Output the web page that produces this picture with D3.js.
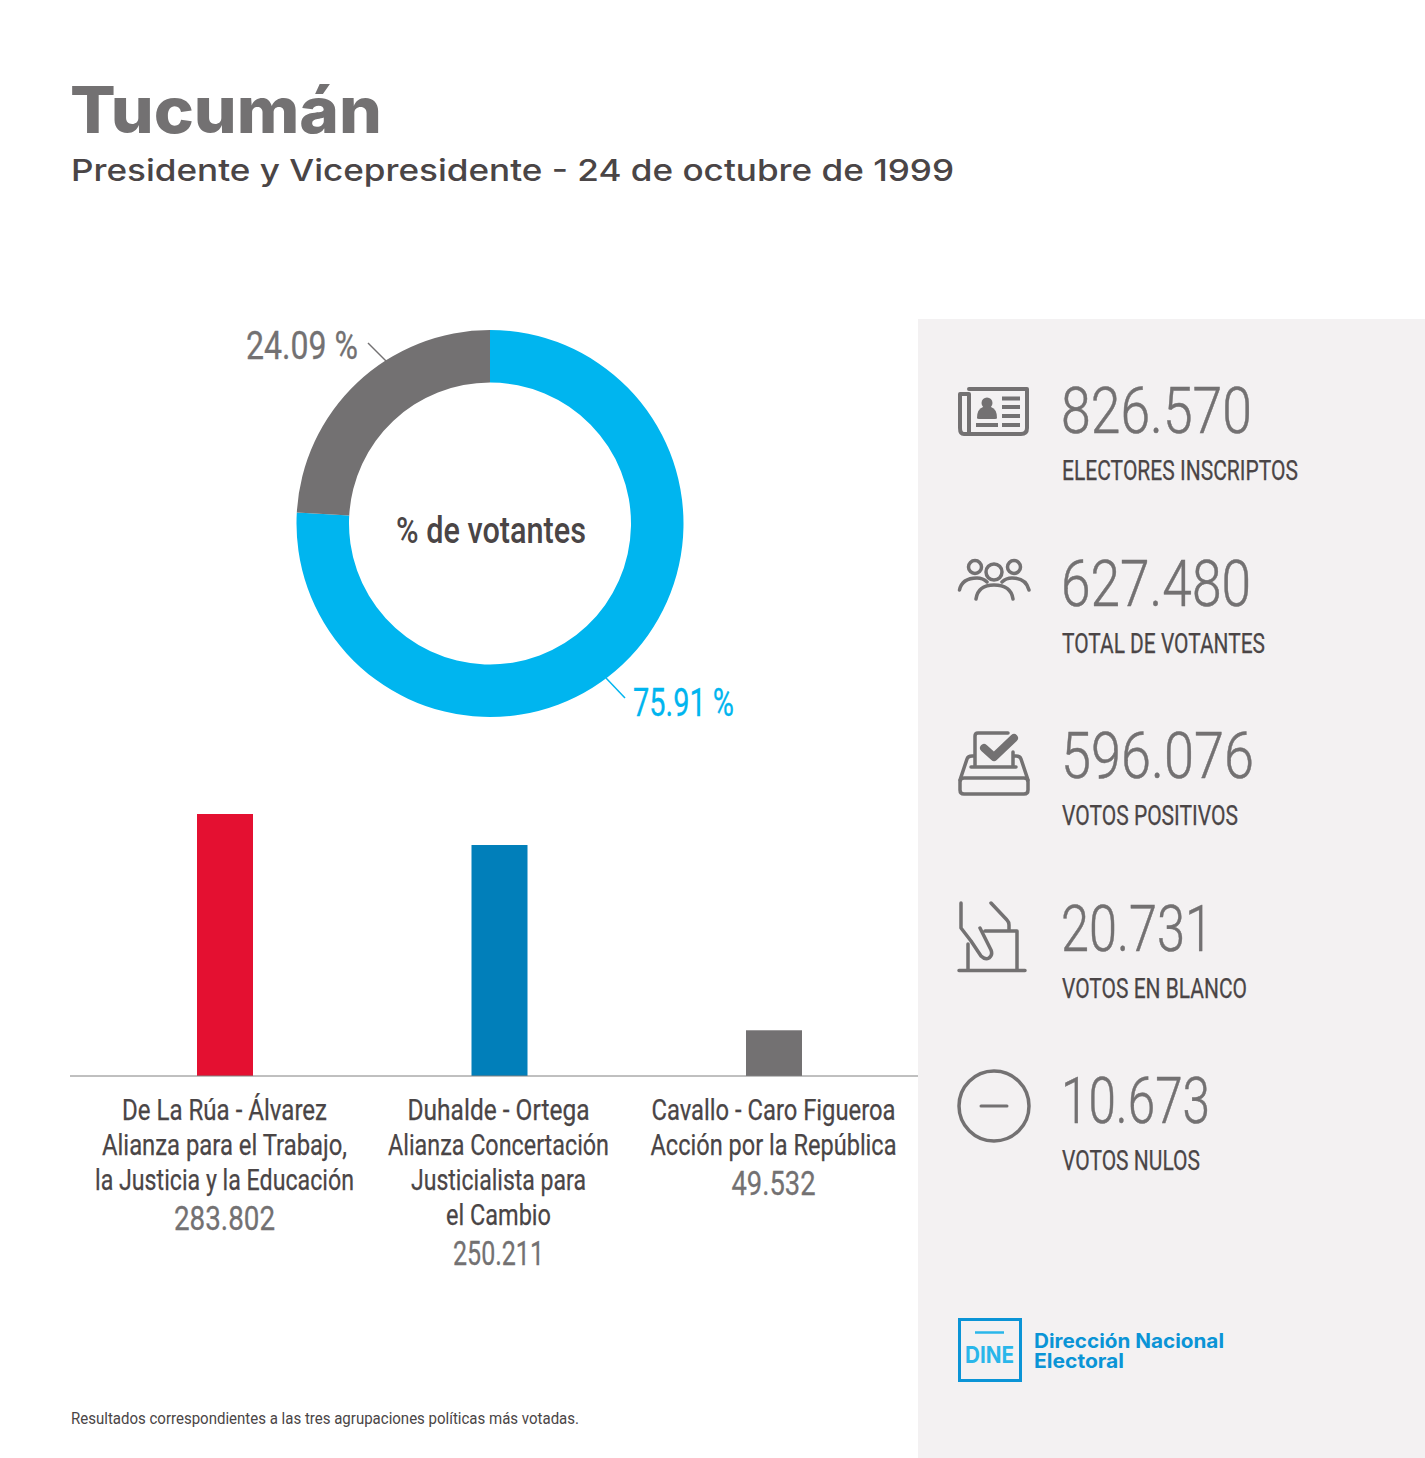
<!DOCTYPE html>
<html>
<head>
<meta charset="utf-8">
<script src="https://cdn.jsdelivr.net/npm/d3@7"></script>
<style>
  html, body { margin: 0; padding: 0; background: #fff; }
  svg { display: block; }
</style>
</head>
<body>
<div id="chart"></div>
<script>
// Donut values
var shareLabels = ["75.91 %", "24.09 %"];
var shareValues = [75.91, 24.09];

// Bar values
var parties = [
  ["De La Rúa - Álvarez", "Alianza para el Trabajo,", "la Justicia y la Educación"],
  ["Duhalde - Ortega", "Alianza Concertación", "Justicialista para", "el Cambio"],
  ["Cavallo - Caro Figueroa", "Acción por la República"]
];
var partyVotes = [283802, 250211, 49532];
var partyVoteLabels = ["283.802", "250.211", "49.532"];

// Side panel
var statValues = ["826.570", "627.480", "596.076", "20.731", "10.673"];
var statLabels = ["ELECTORES INSCRIPTOS", "TOTAL DE VOTANTES", "VOTOS POSITIVOS", "VOTOS EN BLANCO", "VOTOS NULOS"];

// Text widths measured on the reference, the condensed face is not installed
var partyWidths = [[205, 245, 259], [182, 221, 175, 105], [244, 246]];
var partyVoteWidths = [101, 91, 84];
var statValueWidths = [191, 190, 193, 152, 149];
var statLabelWidths = [236, 203, 176, 185, 138];

var GREY = "#737172", DARK = "#4a4546", CYAN = "#00b5ef", LOGO = "#0a94d6";
var svg = d3.select("#chart").append("svg").attr("width", 1425).attr("height", 1458);

// squeeze a text to the given width
function label(txt, x, y, size, color, weight, anchor, width) {
  return svg.append("text")
    .attr("x", x).attr("y", y)
    .attr("text-anchor", anchor || "start")
    .attr("font-family", "Roboto")
    .attr("font-size", size)
    .attr("font-weight", weight || 400)
    .attr("fill", color)
    .attr("textLength", width)
    .attr("lengthAdjust", "spacingAndGlyphs")
    .text(txt);
}

// Panel background
svg.append("rect").attr("x", 918).attr("y", 319).attr("width", 507).attr("height", 1139).attr("fill", "#f3f1f2");

// Title block
svg.append("text").attr("x", 70).attr("y", 133)
  .attr("font-family", "Inter").attr("font-weight", 800).attr("font-size", 64)
  .attr("fill", GREY).attr("textLength", 312).attr("lengthAdjust", "spacingAndGlyphs")
  .text("Tucumán");
svg.append("text").attr("x", 71).attr("y", 181)
  .attr("font-family", "Inter").attr("font-weight", 500).attr("font-size", 30)
  .attr("fill", DARK).attr("textLength", 883).attr("lengthAdjust", "spacingAndGlyphs")
  .text("Presidente y Vicepresidente - 24 de octubre de 1999");

// Donut
var pie = d3.pie().sort(null)(shareValues);
var arc = d3.arc().innerRadius(141).outerRadius(193.5);
var donut = svg.append("g").attr("transform", "translate(490,523.5)");
donut.selectAll("path").data(pie).enter().append("path")
  .attr("d", arc)
  .attr("fill", function (d, i) { return [CYAN, GREY][i]; });

label("% de votantes", 491, 543, 37, DARK, 500, "middle", 190);
label(shareLabels[1], 246, 359, 38, GREY, 400, "start", 112).attr("stroke", GREY).attr("stroke-width", 0.3);
label(shareLabels[0], 633, 716, 38, CYAN, 400, "start", 101).attr("stroke", CYAN).attr("stroke-width", 0.3);
svg.append("line").attr("x1", 368).attr("y1", 343).attr("x2", 386).attr("y2", 361).attr("stroke", GREY).attr("stroke-width", 1.5);
svg.append("line").attr("x1", 606).attr("y1", 678).attr("x2", 625).attr("y2", 698).attr("stroke", CYAN).attr("stroke-width", 1.5);

// Bars
var x = d3.scalePoint().domain(d3.range(partyVotes.length)).range([225, 774]);
var y = d3.scaleLinear().domain([0, 283802]).range([1076, 814]);
var barColors = ["#e41031", "#017fba", GREY];

svg.selectAll("rect.bar").data(partyVotes).enter().append("rect")
  .attr("class", "bar")
  .attr("x", function (d, i) { return x(i) - 28; })
  .attr("y", function (d) { return y(d); })
  .attr("width", 56)
  .attr("height", function (d) { return y(0) - y(d); })
  .attr("fill", function (d, i) { return barColors[i]; });

svg.append("line").attr("x1", 70).attr("x2", 918).attr("y1", 1076).attr("y2", 1076)
  .attr("stroke", "#808080").attr("stroke-width", 1);

parties.forEach(function (lines, i) {
  var cx = x(i) - (i == 1 ? 1 : 0.5);
  lines.forEach(function (line, j) {
    label(line, cx, 1120 + j * 35, 29, DARK, 400, "middle", partyWidths[i][j]).attr("stroke", DARK).attr("stroke-width", 0.25);
  });
  label(partyVoteLabels[i], cx, 1120 + lines.length * 35 + 5, 34, GREY, 400, "middle", partyVoteWidths[i]).attr("stroke", GREY).attr("stroke-width", 0.3);
});

label("Resultados correspondientes a las tres agrupaciones políticas más votadas.", 71, 1424, 17, DARK, 400, "start", 508);

// Stats
statValues.forEach(function (v, i) {
  var top = 433 + i * 172.5;
  label(v, 1061, top, 65, GREY, 300, "start", statValueWidths[i]).attr("stroke", GREY).attr("stroke-width", 0.5);
  label(statLabels[i], 1062, top + 47, 27, DARK, 400, "start", statLabelWidths[i]).attr("stroke", DARK).attr("stroke-width", 0.25);
});

// Icons
var icons = svg.append("g").attr("fill", "none").attr("stroke", GREY).attr("stroke-linecap", "round").attr("stroke-linejoin", "round");

// padron
icons.append("path").attr("stroke-width", 4).attr("d", "M969 389H1027V428Q1027 434 1021 434H964Q960 434 960 428V394H969V434");
icons.append("circle").attr("cx", 987).attr("cy", 403).attr("r", 5.5).attr("fill", GREY).attr("stroke", "none");
icons.append("path").attr("fill", GREY).attr("stroke", "none").attr("d", "M977 418Q977 409 983 407H991Q997 409 997 418Q997 419 995 419H979Q977 419 977 418Z");
icons.append("path").attr("stroke-width", 4).attr("stroke-linecap", "butt")
  .attr("d", "M1002 398.500H1020M1002 407H1020M1002 416H1020M1002 425H1020M976 425H998");

// votantes
icons.append("g").attr("stroke-width", 3.5).selectAll("circle")
  .data([[975, 567, 6.5], [994, 572, 8], [1014, 567, 6.5]]).enter().append("circle")
  .attr("cx", function (d) { return d[0]; }).attr("cy", function (d) { return d[1]; }).attr("r", function (d) { return d[2]; });
icons.append("path").attr("stroke-width", 3.5)
  .attr("d", "M959.500 590Q962 578 977 578Q983 578 987 582M1029 590Q1026 578 1012 578Q1006 578 1002 582M976 599Q978 585 994 585Q1011 585 1013 599");

// urna con voto
icons.append("path").attr("stroke-width", 3.5)
  .attr("d", "M960 782Q960 778 964 778H1024Q1028 778 1028 782V790Q1028 794 1024 794H964Q960 794 960 790Z");
icons.append("path").attr("stroke-width", 3.5)
  .attr("d", "M960 780L967 759Q968 756 972 756H975M1028 780L1021 759Q1020 756 1016 756H1013M971 767H1016M975 767V736Q975 733 978 733H1008M1013 752V767");
icons.append("path").attr("stroke-width", 8).attr("d", "M984 748L994 757L1014 738");

// voto en blanco
icons.append("path").attr("stroke-width", 3.5)
  .attr("d", "M961 903V928L971 941L981 956Q985 960 989 958Q993 955 991 950L980 928M991 903L1007 920Q1009 922 1009 925V931M985 931H1017V970M968 944V970M959 970.500H1025");

// voto nulo
icons.append("circle").attr("cx", 994).attr("cy", 1106).attr("r", 35).attr("stroke-width", 3.5);
icons.append("path").attr("stroke-width", 3).attr("d", "M981 1106H1007");

// Logo
svg.append("rect").attr("x", 959.5).attr("y", 1319.5).attr("width", 61).attr("height", 61)
  .attr("fill", "none").attr("stroke", LOGO).attr("stroke-width", 3);
svg.append("line").attr("x1", 975).attr("x2", 1004).attr("y1", 1332.5).attr("y2", 1332.5).attr("stroke", "#29b6ea").attr("stroke-width", 2.5);
svg.append("text").attr("x", 965).attr("y", 1363).attr("font-family", "Inter").attr("font-weight", 700).attr("font-size", 23)
  .attr("fill", "#29b6ea").attr("textLength", 49).attr("lengthAdjust", "spacingAndGlyphs").text("DINE");
svg.append("text").attr("x", 1034).attr("y", 1348).attr("font-family", "Inter").attr("font-weight", 700).attr("font-size", 19.5)
  .attr("fill", LOGO).attr("textLength", 190).attr("lengthAdjust", "spacingAndGlyphs").text("Dirección Nacional");
svg.append("text").attr("x", 1034).attr("y", 1368).attr("font-family", "Inter").attr("font-weight", 700).attr("font-size", 19.5)
  .attr("fill", LOGO).attr("textLength", 90).attr("lengthAdjust", "spacingAndGlyphs").text("Electoral");
</script>
</body>
</html>
